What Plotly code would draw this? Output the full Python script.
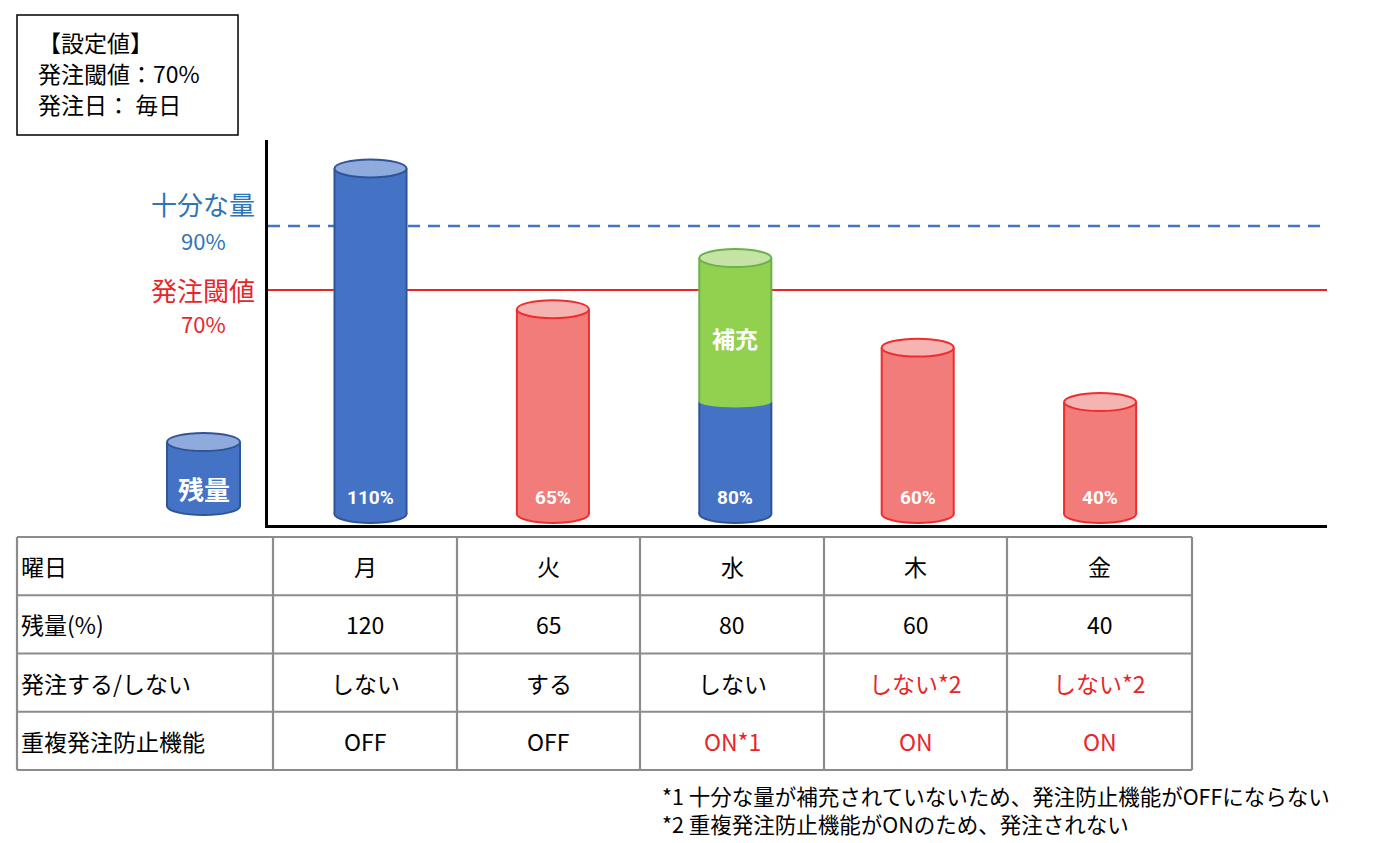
import plotly.graph_objects as go

W, H = 1380, 843

# ---------------- data ----------------
days = ["月", "火", "水", "木", "金"]
stock_level = [108, 64, 35, 52, 35]        # drawn stock level (%)
refill_amount = [0, 0, 45, 0, 0]           # refill on 水 (stacked on top of stock)
bar_labels = ["110%", "65%", "80%", "60%", "40%"]
bar_kind = ["blue", "red", "blue", "red", "red"]
enough_level = 90
threshold_level = 70

row_names = ["曜日", "残量(%)", "発注する/しない", "重複発注防止機能"]
remaining_pct = ["120", "65", "80", "60", "40"]
order_decision = ["しない", "する", "しない", "しない*2", "しない*2"]
order_red = [False, False, False, True, True]
dup_prevent = ["OFF", "OFF", "ON*1", "ON", "ON"]
dup_red = [False, False, True, True, True]
col_widths = [256, 184, 183, 184, 183, 185]

settings_lines = ["【設定値】", "発注閾値：70%", "発注日： 毎日"]
footnotes = ["*1 十分な量が補充されていないため、発注防止機能がOFFにならない",
             "*2 重複発注防止機能がONのため、発注されない"]

# ---------------- style ----------------
PAL = {
    "blue": dict(fill="#4472C4", line="#2F5597", top="#8FAADC"),
    "red": dict(fill="#F17C7A", line="#EE2E2E", top="#F5B3B1"),
    "green": dict(fill="#92D050", line="#6AB04C", top="#C5E3A5"),
}
RED_TXT = "#E8262A"
BLUE_TXT = "#2E75B6"
JP = "Noto Sans CJK JP"
NARROW = "Liberation Sans Narrow, Roboto, Noto Sans CJK JP"
GRID = "#8C8C8C"

bar_w = 0.395
hw = bar_w / 2
ell = 2.8  # half-height of cylinder caps in y units


def px(xp):
    return xp / W


def py(yp):
    return 1 - yp / H


fig = go.Figure()

xs = list(range(len(days)))
fig.add_trace(go.Bar(
    x=xs, y=stock_level, base=0, width=bar_w,
    marker=dict(color=[PAL[k]["fill"] for k in bar_kind], line=dict(width=0)),
    hoverinfo="skip", showlegend=False))
fig.add_trace(go.Bar(
    x=xs, y=refill_amount, base=stock_level, width=bar_w,
    marker=dict(color=PAL["green"]["fill"], line=dict(width=0)),
    hoverinfo="skip", showlegend=False))

shapes = []


def cyl_shapes(xc, h0, h1, col, xref, yref, e, halfw, bottom=True, top=True, joint=False):
    out = []
    if bottom:
        out.append(dict(type="circle", xref=xref, yref=yref, layer="below",
                        x0=xc - halfw, x1=xc + halfw, y0=h0 - e, y1=h0 + e,
                        fillcolor=col["fill"], line=dict(color=col["line"], width=2)))
    if joint:
        out.append(dict(type="circle", xref=xref, yref=yref, layer="above",
                        x0=xc - halfw, x1=xc + halfw, y0=h0 - e * 0.6, y1=h0 + e * 0.6,
                        fillcolor=col["fill"], line=dict(width=0)))
    for sx in (xc - halfw, xc + halfw):
        out.append(dict(type="line", xref=xref, yref=yref, layer="above",
                        x0=sx, x1=sx, y0=h0, y1=h1, line=dict(color=col["line"], width=2)))
    if top:
        out.append(dict(type="circle", xref=xref, yref=yref, layer="above",
                        x0=xc - halfw, x1=xc + halfw, y0=h1 - e, y1=h1 + e,
                        fillcolor=col["top"], line=dict(color=col["line"], width=2)))
    return out


for i, (lvl, add, kind) in enumerate(zip(stock_level, refill_amount, bar_kind)):
    col = PAL[kind]
    if add > 0:
        shapes += cyl_shapes(i, 0, lvl, col, "x", "y", ell, hw, top=False)
        shapes += cyl_shapes(i, lvl, lvl + add, PAL["green"], "x", "y", ell, hw,
                             bottom=False, joint=True)
    else:
        shapes += cyl_shapes(i, 0, lvl, col, "x", "y", ell, hw)

# reference lines
shapes.append(dict(type="line", xref="x domain", yref="y", x0=0, x1=1,
                   y0=enough_level, y1=enough_level, layer="below",
                   line=dict(color="#4472C4", width=2.5, dash="12px,8px")))
shapes.append(dict(type="line", xref="x domain", yref="y", x0=0, x1=1,
                   y0=threshold_level, y1=threshold_level, layer="below",
                   line=dict(color="#E8262A", width=2)))

# legend cylinder (paper coords)
lg = PAL["blue"]
lx, lhw = px(203.5), 36.5 / W
ly0, ly1, le = py(506), py(442), 9 / H
shapes.append(dict(type="circle", xref="paper", yref="paper", layer="above",
                   x0=lx - lhw, x1=lx + lhw, y0=ly0 - le, y1=ly0 + le,
                   fillcolor=lg["fill"], line=dict(color=lg["line"], width=2)))
shapes.append(dict(type="rect", xref="paper", yref="paper", layer="above",
                   x0=lx - lhw, x1=lx + lhw, y0=ly0, y1=ly1,
                   fillcolor=lg["fill"], line=dict(width=0)))
for sx in (lx - lhw, lx + lhw):
    shapes.append(dict(type="line", xref="paper", yref="paper", layer="above",
                       x0=sx, x1=sx, y0=ly0, y1=ly1, line=dict(color=lg["line"], width=2)))
shapes.append(dict(type="circle", xref="paper", yref="paper", layer="above",
                   x0=lx - lhw, x1=lx + lhw, y0=ly1 - le, y1=ly1 + le,
                   fillcolor=lg["top"], line=dict(color=lg["line"], width=2)))

# settings box
shapes.append(dict(type="rect", xref="paper", yref="paper",
                   x0=px(17), x1=px(238), y0=py(135), y1=py(15),
                   line=dict(color="black", width=1.5), fillcolor="rgba(0,0,0,0)"))

annotations = []


def ann(x, y, text, size, color="black", family=JP, xanchor="center", xref="paper", yref="paper",
        align="center"):
    annotations.append(dict(x=x, y=y, xref=xref, yref=yref, text=text, showarrow=False,
                            xanchor=xanchor, yanchor="middle", align=align,
                            font=dict(family=family, size=size, color=color)))


for i, t in enumerate(bar_labels):
    ann(i, 5.3, f"<b>{t}</b>", 19, "white", NARROW, xref="x", yref="y")
for i, add in enumerate(refill_amount):
    if add > 0:
        ann(i, stock_level[i] + add - 25, "<b>補充</b>", 23, "white", xref="x", yref="y")
ann(lx, py(488), "<b>残量</b>", 26, "white")

# level labels
ann(px(203), py(203), "十分な量", 26, BLUE_TXT)
ann(px(203), py(240), f"{enough_level}%", 22, BLUE_TXT)
ann(px(203), py(289), "発注閾値", 26, RED_TXT)
ann(px(203), py(323), f"{threshold_level}%", 22, RED_TXT)

for t, yy in zip(settings_lines, [42, 73, 104]):
    ann(px(36), py(yy), t, 23, xanchor="left")

# footnotes as one two-line text block
ann(px(660), py(809), "<br>".join(footnotes), 21.5, xanchor="left", align="left")

# ---------------- table (lines + text) ----------------
tbl_x0, tbl_y0, row_h = 17, 537, 58.25
col_edges = [tbl_x0]
for w in col_widths:
    col_edges.append(col_edges[-1] + w)
n_rows = len(row_names)
row_edges = [tbl_y0 + r * row_h for r in range(n_rows + 1)]

for yy in row_edges:
    shapes.append(dict(type="line", xref="paper", yref="paper",
                       x0=px(col_edges[0]), x1=px(col_edges[-1]), y0=py(yy), y1=py(yy),
                       line=dict(color=GRID, width=2.2)))
for xx in col_edges:
    shapes.append(dict(type="line", xref="paper", yref="paper",
                       x0=px(xx), x1=px(xx), y0=py(row_edges[0]), y1=py(row_edges[-1]),
                       line=dict(color=GRID, width=2.2)))

table_rows = [
    (days, [False] * 5),
    (remaining_pct, [False] * 5),
    (order_decision, order_red),
    (dup_prevent, dup_red),
]
TBL_SIZE = 23
for r, (name, (vals, reds)) in enumerate(zip(row_names, table_rows)):
    yc = (row_edges[r] + row_edges[r + 1]) / 2
    ann(px(col_edges[0] + 2), py(yc), name, TBL_SIZE, xanchor="left")
    for c, (v, red) in enumerate(zip(vals, reds)):
        xc = (col_edges[c + 1] + col_edges[c + 2]) / 2
        ann(px(xc), py(yc), v, TBL_SIZE, RED_TXT if red else "black")

fig.update_layout(
    width=W, height=H, margin=dict(l=0, r=0, t=0, b=0),
    paper_bgcolor="white", plot_bgcolor="rgba(0,0,0,0)",
    barmode="overlay", bargap=0,
    shapes=shapes, annotations=annotations, showlegend=False,
    xaxis=dict(domain=[px(268), px(1327)], range=[-0.562, 5.244], showline=True,
               linecolor="black", linewidth=2.5, showticklabels=False, ticks="",
               showgrid=False, zeroline=False, fixedrange=True),
    yaxis=dict(domain=[py(525), py(140)], range=[-3.44, 116.9], showline=True,
               linecolor="black", linewidth=2.5, showticklabels=False, ticks="",
               showgrid=False, zeroline=False, fixedrange=True),
)

fig.write_html("out.html")
